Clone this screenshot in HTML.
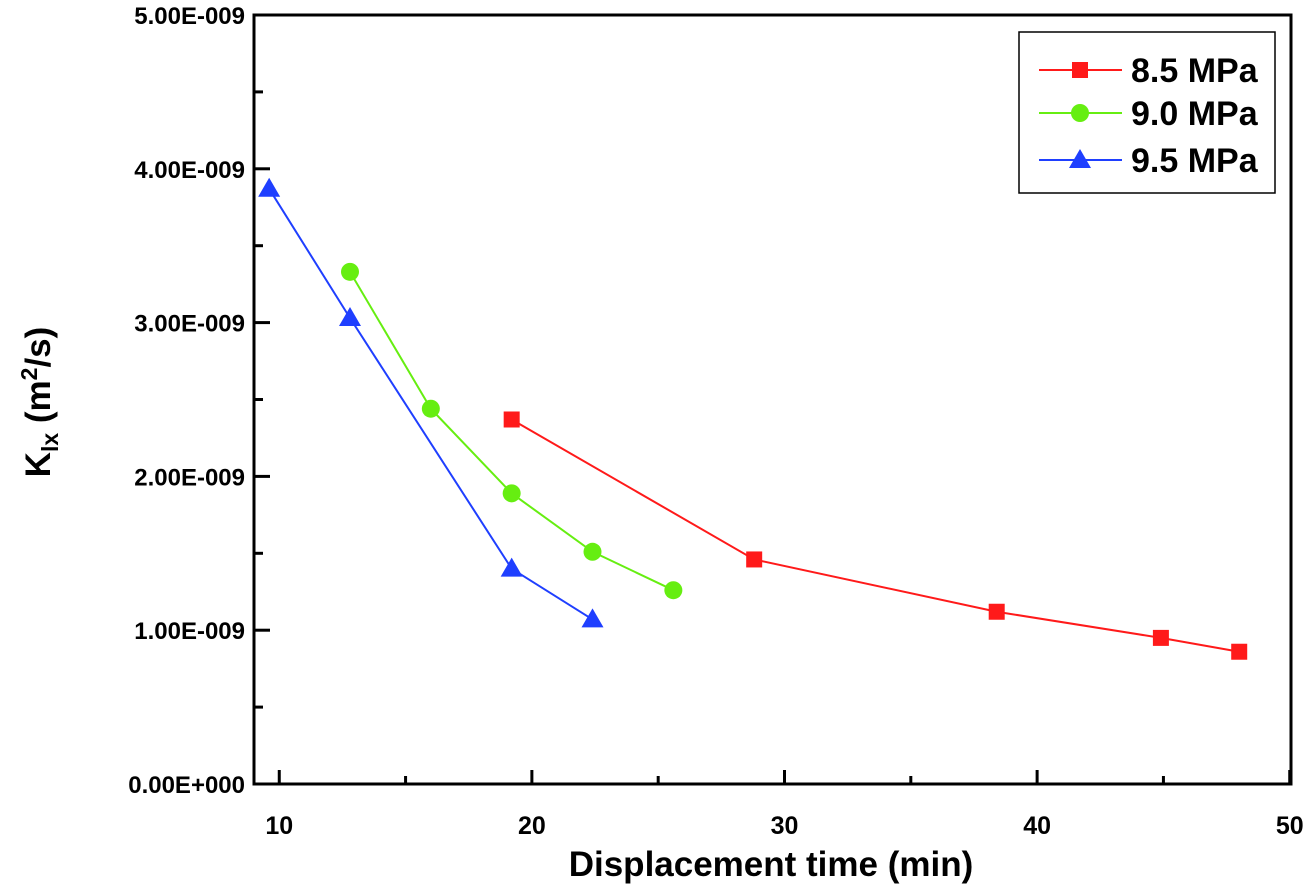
<!DOCTYPE html>
<html><head><meta charset="utf-8"><style>
body{margin:0;background:#fff;}
svg text{font-family:"Liberation Sans",Arial,sans-serif;font-weight:bold;}
</style></head><body>
<svg id="chart" width="1309" height="891" viewBox="0 0 1309 891">
<g id="axes"></g><g id="series"></g><g id="legend"></g>
</svg>
<script>
const xTicks=[10,20,30,40,50];
const yTicks=[0,1,2,3,4,5];
const yTickLabels=["0.00E+000","1.00E-009","2.00E-009","3.00E-009","4.00E-009","5.00E-009"];
const seriesNames=["8.5 MPa","9.0 MPa","9.5 MPa"];
const x85=[19.2,28.8,38.4,44.9,48.0];
const y85=[2.37,1.46,1.12,0.95,0.86];
const x90=[12.8,16.0,19.2,22.4,25.6];
const y90=[3.33,2.44,1.89,1.51,1.26];
const x95=[9.6,12.8,19.2,22.4];
const y95=[3.87,3.03,1.40,1.07];

const L=254,R=1291,T=15,B=784,XMIN=9,XMAX=50.05,YMIN=0,YMAX=5;
const sx=v=>L+(v-XMIN)/(XMAX-XMIN)*(R-L);
const sy=v=>B-(v-YMIN)/(YMAX-YMIN)*(B-T);
const NS="http://www.w3.org/2000/svg";
function mk(tag,attrs,parent){const e=document.createElementNS(NS,tag);for(const k in attrs)e.setAttribute(k,attrs[k]);parent.appendChild(e);return e;}
const axes=document.getElementById('axes'),ser=document.getElementById('series'),leg=document.getElementById('legend');
let f=mk('rect',{x:L,y:T,width:R-L,height:B-T,fill:'none',stroke:'#000','stroke-width':3},axes);


xTicks.forEach(v=>{
 let t=mk('line',{x1:sx(v),x2:sx(v),y1:B,y2:B-14,stroke:'#000','stroke-width':3},axes);
 
 
 if(v-5>XMIN){let m=mk('line',{x1:sx(v-5),x2:sx(v-5),y1:B,y2:B-8,stroke:'#000','stroke-width':3},axes);
 
 }
 let tx=mk('text',{x:sx(v),y:B+50,'text-anchor':'middle','font-size':25},axes);tx.textContent=v;
 
 
});
yTicks.forEach((v,i)=>{
 let t=mk('line',{x1:L,x2:L+16,y1:sy(v),y2:sy(v),stroke:'#000','stroke-width':3},axes);
 
 
 if(v<5){let m=mk('line',{x1:L,x2:L+9,y1:sy(v+0.5),y2:sy(v+0.5),stroke:'#000','stroke-width':3},axes);
 
 }
 let tx=mk('text',{x:L-9,y:sy(v)+9,'text-anchor':'end','font-size':24},axes);tx.textContent=yTickLabels[i];
 
 
});
let xt=mk('text',{x:771,y:876,'text-anchor':'middle','font-size':35},axes);xt.textContent='Displacement time (min)';


let yt=mk('text',{x:0,y:0,'text-anchor':'middle','font-size':35,transform:'translate(50,402) rotate(-90)'},axes);
yt.innerHTML='K<tspan font-size="23" dy="8">lx</tspan><tspan dy="-8"> (m</tspan><tspan font-size="23" dy="-13">2</tspan><tspan dy="13">/s)</tspan>';



function marker(type,cx,cy,col,parent){
 let e;
 if(type==0)e=mk('rect',{x:cx-8,y:cy-8,width:16,height:16,fill:col},parent);
 else if(type==1)e=mk('circle',{cx:cx,cy:cy,r:9,fill:col},parent);
 else e=mk('polygon',{points:`${cx},${cy-11} ${cx+11},${cy+8} ${cx-11},${cy+8}`,fill:col},parent);
 return e;
}
const cols=["#ff1a1a","#66ee11","#1f3fff"];
[[x85,y85],[x90,y90],[x95,y95]].forEach((s,i)=>{
 const g=mk('g',{},ser);
 
 
 let pl=mk('polyline',{points:s[0].map((x,j)=>sx(x)+','+sy(s[1][j])).join(' '),fill:'none',stroke:cols[i],'stroke-width':2},g);
 
 
 s[0].forEach((x,j)=>{let m=marker(i,sx(x),sy(s[1][j]),cols[i],g);
  
  });
});
let lb=mk('rect',{x:1019,y:32,width:256,height:161,fill:'#fff',stroke:'#000','stroke-width':1.5},leg);


[70,113,160].forEach((y,i)=>{
 const g=mk('g',{},leg);
 
 
 mk('line',{x1:1039,x2:1122,y1:y,y2:y,stroke:cols[i],'stroke-width':2},g);
 marker(i,1080,y,cols[i],g);
 let t=mk('text',{x:1131,y:y+12,'font-size':34},g);t.textContent=seriesNames[i];
});
</script>
</body></html>
